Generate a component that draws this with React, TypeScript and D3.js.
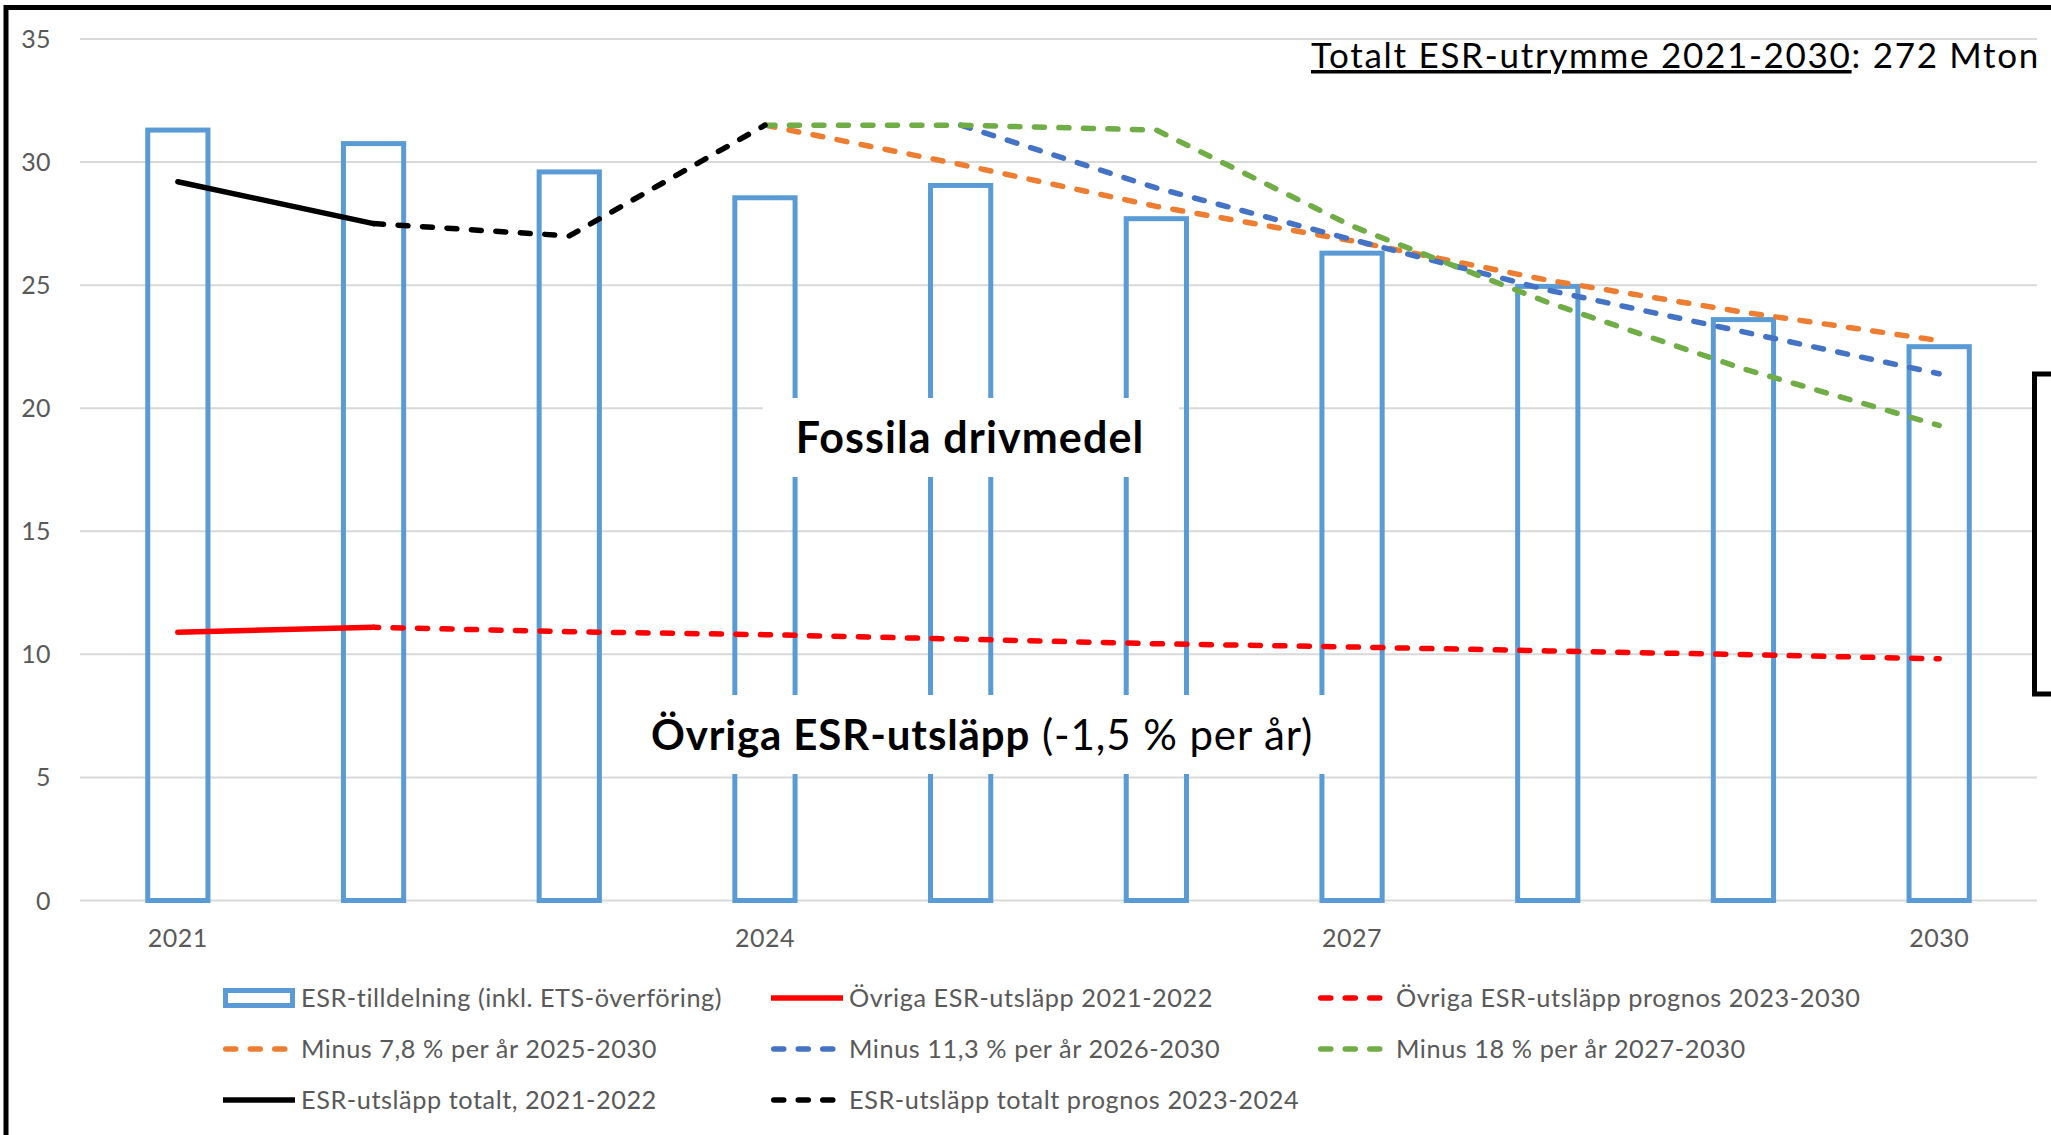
import React from 'react';
import * as d3 from 'd3';

const years = [2021, 2022, 2023, 2024, 2025, 2026, 2027, 2028, 2029, 2030];
const allocation = [31.3, 30.75, 29.6, 28.55, 29.05, 27.7, 26.3, 24.95, 23.6, 22.5];
const otherActual = [10.9, 11.1]; // 2021-2022
const otherForecast = [11.1, 10.92, 10.8, 10.62, 10.43, 10.3, 10.14, 9.99, 9.82]; // 2022-2030
const minus78 = [31.5, 29.9, 28.2, 26.8, 25.2, 23.9, 22.75]; // 2024-2030
const minus113 = [31.5, 28.95, 26.85, 24.8, 23.1, 21.4]; // 2025-2030
const minus18 = [31.5, 31.5, 31.3, 27.4, 24.3, 21.6, 19.3]; // 2024-2030
const totalActual = [29.2, 27.5]; // 2021-2022
const totalForecast = [27.5, 27.0, 31.5]; // 2022-2024

const yTicks = [0, 5, 10, 15, 20, 25, 30, 35];
const xTickLabels = [2021, 2024, 2027, 2030];

const legendLabels = [
  'ESR-tilldelning (inkl. ETS-överföring)',
  'Övriga ESR-utsläpp 2021-2022',
  'Övriga ESR-utsläpp prognos 2023-2030',
  'Minus 7,8 % per år 2025-2030',
  'Minus 11,3 % per år 2026-2030',
  'Minus 18 % per år 2027-2030',
  'ESR-utsläpp totalt, 2021-2022',
  'ESR-utsläpp totalt prognos 2023-2024',
];

const titleUnderlined = 'Totalt ESR-utrymme 2021-2030';
const titleRest = ': 272 Mton';
const fossilLabel = 'Fossila drivmedel';
const otherLabelBold = 'Övriga ESR-utsläpp';
const otherLabelRest = ' (-1,5 % per år)';

const FONT = 'Lato, "Open Sans", sans-serif';
const GREY = '#595959';
const BAR = '#5B9BD5';
const RED = '#FF0000';
const ORANGE = '#ED7D31';
const BLUE = '#4472C4';
const GREEN = '#70AD47';
const DASH = '10 14.5';
const LW = 5.5;

export default function App() {
  const W = 2051;
  const H = 1135;
  const x = d3.scalePoint<number>().domain(years).range([80, 2037]).padding(0.5);
  const step = x.step();
  const y = d3.scaleLinear().domain([0, 35]).range([900.5, 39]);
  const barW = step / 3 - 5;
  const line = d3
    .line<[number, number]>()
    .x((d) => x(d[0]) as number)
    .y((d) => y(d[1]));
  const ser = (start: number, vals: number[]) =>
    vals.map((v, i) => [start + i, v] as [number, number]);

  const lines = [
    { data: ser(2021, otherActual), color: RED, dash: null, offset: 0 },
    { data: ser(2022, otherForecast), color: RED, dash: DASH, offset: 5 },
    { data: ser(2024, minus78), color: ORANGE, dash: DASH, offset: 0 },
    { data: ser(2025, minus113), color: BLUE, dash: DASH, offset: 0 },
    { data: ser(2024, minus18), color: GREEN, dash: DASH, offset: 0 },
    { data: ser(2021, totalActual), color: '#000', dash: null, offset: 0 },
    { data: ser(2022, totalForecast), color: '#000', dash: DASH, offset: 0 },
  ];

  const legendStyles: { type: string; color: string; dash: string | null }[] = [
    { type: 'bar', color: BAR, dash: null },
    { type: 'line', color: RED, dash: null },
    { type: 'line', color: RED, dash: DASH },
    { type: 'line', color: ORANGE, dash: DASH },
    { type: 'line', color: BLUE, dash: DASH },
    { type: 'line', color: GREEN, dash: DASH },
    { type: 'line', color: '#000', dash: null },
    { type: 'line', color: '#000', dash: DASH },
  ];
  const legCols = [223, 771, 1318];
  const legRows = [998, 1049, 1100];

  return (
    <svg
      width={W}
      height={H}
      viewBox={`0 0 ${W} ${H}`}
      style={{ position: 'absolute', left: 0, top: 0, background: '#fff' }}
      fontFamily={FONT}
    >
      <rect x={0} y={0} width={W} height={H} fill="#fff" />
      {/* gridlines */}
      {yTicks.map((t) => (
        <line key={t} x1={80} x2={2037} y1={y(t)} y2={y(t)} stroke="#D9D9D9" strokeWidth={2} />
      ))}
      {/* y tick labels */}
      {yTicks.map((t) => (
        <text key={'yt' + t} x={51} y={y(t) + 9} textAnchor="end" fontSize={25} letterSpacing={0.4} fill={GREY}>
          {t}
        </text>
      ))}
      {/* x tick labels */}
      {xTickLabels.map((t) => (
        <text key={'xt' + t} x={x(t)} y={947} textAnchor="middle" fontSize={25} letterSpacing={0.5} fill={GREY}>
          {t}
        </text>
      ))}
      {/* bars */}
      {years.map((yr, i) => (
        <rect
          key={'b' + yr}
          x={(x(yr) as number) - barW / 2}
          y={y(allocation[i])}
          width={barW}
          height={y(0) - y(allocation[i])}
          fill="none"
          stroke={BAR}
          strokeWidth={5}
        />
      ))}
      {/* lines */}
      {lines.map((l, i) => (
        <path
          key={'l' + i}
          d={line(l.data) as string}
          fill="none"
          stroke={l.color}
          strokeWidth={LW}
          strokeDasharray={l.dash ?? undefined}
          strokeDashoffset={l.offset}
          strokeLinecap="round"
          strokeLinejoin="round"
        />
      ))}
      {/* label boxes */}
      <rect x={763} y={398} width={416} height={79} fill="#fff" />
      <text x={970} y={453} textAnchor="middle" fontSize={43} letterSpacing={1.1} fontWeight="bold" fill="#000">
        {fossilLabel}
      </text>
      <rect x={640} y={695} width={685} height={79} fill="#fff" />
      <text x={982} y={750} textAnchor="middle" fontSize={42} letterSpacing={0.9} fill="#000">
        <tspan fontWeight="bold">{otherLabelBold}</tspan>
        <tspan>{otherLabelRest}</tspan>
      </text>
      {/* title */}
      <text x={2040} y={68} textAnchor="end" fontSize={35} letterSpacing={1.7} fill="#000">
        <tspan style={{ textDecoration: 'underline' }}>{titleUnderlined}</tspan>
        <tspan>{titleRest}</tspan>
      </text>
      {/* legend */}
      {legendLabels.map((lab, i) => {
        const cx = legCols[i % 3];
        const cy = legRows[Math.floor(i / 3)];
        const st = legendStyles[i];
        return (
          <g key={'lg' + i}>
            {st.type === 'bar' ? (
              <rect x={cx + 2.5} y={cy - 7.5} width={67} height={15} fill="none" stroke={st.color} strokeWidth={5} />
            ) : st.dash ? (
              <line
                x1={cx + 2.75}
                x2={cx + 64}
                y1={cy}
                y2={cy}
                stroke={st.color}
                strokeWidth={LW}
                strokeDasharray={st.dash}
                strokeLinecap="round"
              />
            ) : (
              <line x1={cx} x2={cx + 72} y1={cy} y2={cy} stroke={st.color} strokeWidth={LW} />
            )}
            <text x={cx + 78} y={cy + 9} fontSize={25.3} letterSpacing={0.55} fill={GREY}>
              {lab}
            </text>
          </g>
        );
      })}
      {/* frame */}
      <rect x={6} y={7.5} width={2200} height={1300} fill="none" stroke="#000" strokeWidth={5} />
      <rect x={2034.5} y={374} width={100} height={320} fill="none" stroke="#000" strokeWidth={5} />
    </svg>
  );
}
